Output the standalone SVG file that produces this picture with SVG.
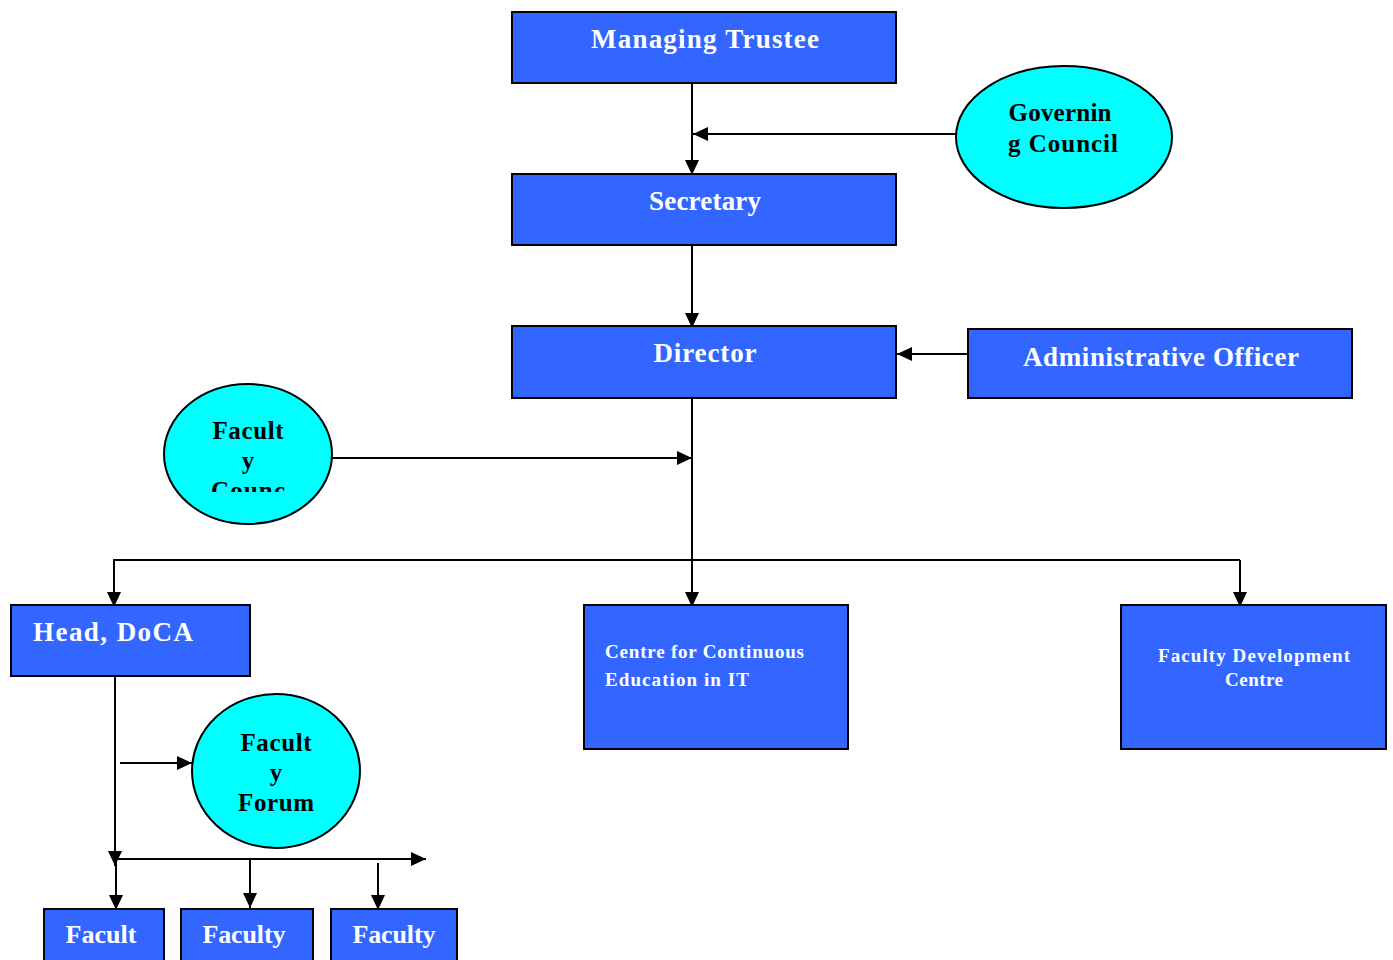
<svg xmlns="http://www.w3.org/2000/svg" width="1393" height="960" viewBox="0 0 1393 960">
<defs>
<marker id="ah" markerUnits="userSpaceOnUse" markerWidth="16" markerHeight="14" refX="15" refY="7" orient="auto">
<path d="M0,0 L15,7 L0,14 Z" fill="#000"/>
</marker>
<clipPath id="fcClip"><rect x="160" y="380" width="180" height="112"/></clipPath>
</defs>
<style>
.box{fill:#3366FF;stroke:#000;stroke-width:2}
.ell{fill:#00FFFF;stroke:#000;stroke-width:2}
.wt{fill:#fff;font-family:"Liberation Serif",serif;font-weight:bold}
.bt{fill:#000;font-family:"Liberation Serif",serif;font-weight:bold}
.c{stroke:#000;stroke-width:2;fill:none}
.a{marker-end:url(#ah)}
</style>
<rect width="1393" height="960" fill="#fff"/>
<g id="connectors">
<line class="c a" x1="692" y1="80" x2="692" y2="175"/>
<line class="c a" x1="956" y1="134" x2="693" y2="134"/>
<line class="c a" x1="692" y1="245" x2="692" y2="328"/>
<line class="c a" x1="968" y1="354" x2="897" y2="354"/>
<line class="c a" x1="692" y1="398" x2="692" y2="607"/>
<line class="c a" x1="332" y1="458" x2="692" y2="458"/>
<line class="c" x1="113" y1="560" x2="1240" y2="560"/>
<line class="c a" x1="114" y1="560" x2="114" y2="607"/>
<line class="c a" x1="1240" y1="560" x2="1240" y2="607"/>
<line class="c a" x1="115" y1="676" x2="115" y2="866"/>
<line class="c a" x1="116" y1="859" x2="116" y2="910"/>
<line class="c a" x1="120" y1="763" x2="192" y2="763"/>
<line class="c a" x1="116" y1="859" x2="426" y2="859"/>
<line class="c a" x1="250" y1="859" x2="250" y2="908"/>
<line class="c a" x1="378" y1="863" x2="378" y2="910"/>
</g>
<g id="managing-trustee">
<rect class="box" x="512" y="12" width="384" height="71"/>
<text class="wt" x="705" y="48" font-size="27" text-anchor="middle" textLength="228">Managing Trustee</text>
</g>
<g id="governing-council">
<ellipse class="ell" cx="1064" cy="137" rx="108" ry="71"/>
<text class="bt" x="1060" y="121" font-size="25" text-anchor="middle" textLength="103">Governin</text>
<text class="bt" x="1063" y="152" font-size="25" text-anchor="middle" textLength="110">g Council</text>
</g>
<g id="secretary">
<rect class="box" x="512" y="174" width="384" height="71"/>
<text class="wt" x="705" y="210" font-size="27" text-anchor="middle" textLength="112">Secretary</text>
</g>
<g id="director">
<rect class="box" x="512" y="326" width="384" height="72"/>
<text class="wt" x="705" y="362" font-size="27" text-anchor="middle" textLength="103">Director</text>
</g>
<g id="administrative-officer">
<rect class="box" x="968" y="329" width="384" height="69"/>
<text class="wt" x="1161" y="366" font-size="27" text-anchor="middle" textLength="276">Administrative Officer</text>
</g>
<g id="faculty-council">
<ellipse class="ell" cx="248" cy="454" rx="84" ry="70"/>
<g clip-path="url(#fcClip)">
<text class="bt" x="248" y="439" font-size="25" text-anchor="middle" textLength="71">Facult</text>
<text class="bt" x="248" y="469" font-size="25" text-anchor="middle">y</text>
<text class="bt" x="248" y="499" font-size="25" text-anchor="middle" textLength="74">Counc</text>
</g>
</g>
<g id="head-doca">
<rect class="box" x="11" y="605" width="239" height="71"/>
<text class="wt" x="33" y="641" font-size="27" textLength="160">Head, DoCA</text>
</g>
<g id="ccei">
<rect class="box" x="584" y="605" width="264" height="144"/>
<text class="wt" x="605" y="658" font-size="19" textLength="199">Centre for Continuous</text>
<text class="wt" x="605" y="686" font-size="19" textLength="144">Education in IT</text>
</g>
<g id="fdc">
<rect class="box" x="1121" y="605" width="265" height="144"/>
<text class="wt" x="1254" y="662" font-size="19" text-anchor="middle" textLength="192">Faculty Development</text>
<text class="wt" x="1254" y="686" font-size="19" text-anchor="middle" textLength="58">Centre</text>
</g>
<g id="faculty-forum">
<ellipse class="ell" cx="276" cy="771" rx="84" ry="77"/>
<text class="bt" x="276" y="751" font-size="25" text-anchor="middle" textLength="71">Facult</text>
<text class="bt" x="276" y="781" font-size="25" text-anchor="middle">y</text>
<text class="bt" x="276" y="811" font-size="25" text-anchor="middle" textLength="76">Forum</text>
</g>
<g id="faculty-1">
<rect class="box" x="44" y="909" width="120" height="60"/>
<text class="wt" x="101" y="943" font-size="26" text-anchor="middle" textLength="71">Facult</text>
</g>
<g id="faculty-2">
<rect class="box" x="181" y="909" width="132" height="60"/>
<text class="wt" x="244" y="943" font-size="26" text-anchor="middle" textLength="83">Faculty</text>
</g>
<g id="faculty-3">
<rect class="box" x="331" y="909" width="126" height="60"/>
<text class="wt" x="394" y="943" font-size="26" text-anchor="middle" textLength="83">Faculty</text>
</g>
</svg>
